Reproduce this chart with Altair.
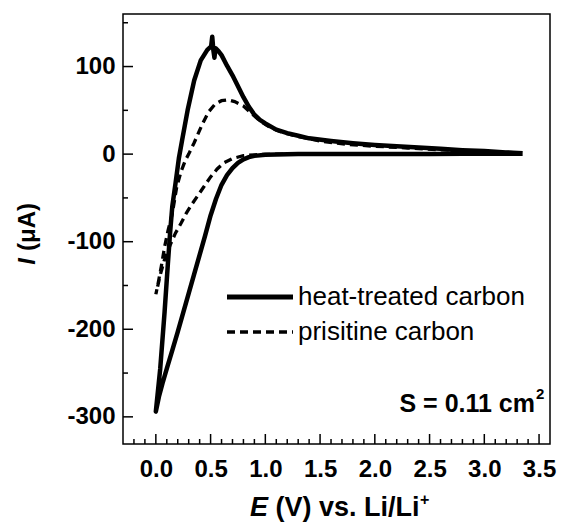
import altair as alt
import pandas as pd

# ---------------- data ----------------
# heat-treated carbon: one CV loop in scan order (cathodic 3.35 V -> 0 V, then anodic back)
ht_E = [3.35, 3.1, 2.8, 2.5, 2.2, 1.9, 1.6, 1.3, 1.1, 1.0, 0.9, 0.85, 0.8, 0.75, 0.7, 0.65,
        0.6, 0.55, 0.5, 0.45, 0.4, 0.35, 0.3, 0.25, 0.2, 0.15, 0.1, 0.06, 0.03, 0.0,
        0.04, 0.08, 0.11, 0.13, 0.15, 0.18, 0.21, 0.24, 0.29, 0.35, 0.41, 0.47, 0.505,
        0.515, 0.525, 0.535, 0.545, 0.57, 0.6, 0.65, 0.7, 0.74, 0.8, 0.85, 0.9, 0.95,
        1.0, 1.1, 1.2, 1.3, 1.4, 1.6, 1.8, 2.0, 2.2, 2.4, 2.6, 2.8, 3.0, 3.2, 3.35]
ht_I = [0.5, 0.5, 0.3, 0.2, 0.1, 0.0, 0.0, 0.0, -0.3, -0.8, -2, -3.5, -6, -10, -16, -24,
        -35, -51, -70, -93, -115, -137, -159, -181, -203, -224, -245, -262, -276, -294,
        -245, -180, -125, -90, -60, -33, -5, 16, 50, 84, 107, 119, 123,
        134, 119, 110, 121, 118, 113, 101, 90, 80, 65, 54, 45, 39,
        35, 28, 24, 21, 18, 15, 12.5, 10.5, 9, 7.5, 6, 4.5, 3.5, 2, 1]

# pristine carbon: one CV loop in scan order
pc_E = [3.3, 3.0, 2.5, 2.0, 1.5, 1.2, 1.0, 0.9, 0.8, 0.7, 0.62, 0.56, 0.5, 0.44, 0.38,
        0.33, 0.28, 0.23, 0.18, 0.13, 0.08, 0.04, 0.0,
        0.02, 0.05, 0.08, 0.11, 0.15, 0.19, 0.23, 0.27, 0.3, 0.35, 0.42, 0.48, 0.54,
        0.6, 0.66, 0.72, 0.8, 0.87, 0.95, 1.05, 1.15, 1.3, 1.5, 1.75, 2.0, 2.3, 2.6,
        2.9, 3.1, 3.3]
pc_I = [0.5, 0.3, 0.2, 0.0, 0.0, 0.0, -0.3, -0.8, -1.8, -5, -10, -17, -26, -37, -48,
        -57, -67, -79, -90, -104, -120, -138, -160,
        -148, -128, -106, -88, -68, -38, -20, -7, 0, 13, 33, 48, 57,
        61, 62, 60, 55, 47, 38, 30, 25, 20, 15, 11, 9, 7, 5,
        3.5, 2.5, 1.5]

series_labels = ["heat-treated carbon", "prisitine carbon"]

x_major = [0.0, 0.5, 1.0, 1.5, 2.0, 2.5, 3.0, 3.5]
x_minor = [-0.2, -0.1, 0.1, 0.2, 0.3, 0.4, 0.6, 0.7, 0.8, 0.9, 1.1, 1.2, 1.3, 1.4,
           1.6, 1.7, 1.8, 1.9, 2.1, 2.2, 2.3, 2.4, 2.6, 2.7, 2.8, 2.9, 3.1, 3.2,
           3.3, 3.4]
y_major = [-300, -200, -100, 0, 100]
y_minor = [-250, -150, -50, 50, 150]

# ---------------- chart ----------------
W, H = 427, 430
FONT = "Liberation Sans"
xs = alt.Scale(domain=[-0.3, 3.6], nice=False, zero=False)
ys = alt.Scale(domain=[-331, 160], nice=False, zero=False)

ht = pd.DataFrame({"E": ht_E, "I": ht_I, "k": list(range(len(ht_E)))})
pc = pd.DataFrame({"E": pc_E, "I": pc_I, "k": list(range(len(pc_E)))})

x_axis = alt.Axis(values=x_major, labelExpr="format(datum.value, '.1f')", title=None,
                  ticks=False, tickSize=0, domain=False, grid=False,
                  labelFont=FONT, labelFontWeight="bold", labelFontSize=24,
                  labelColor="black", labelPadding=13, labelFlush=False,
                  labelOverlap=False)
y_axis = alt.Axis(values=y_major, labelExpr="'' + datum.value", title=None,
                  ticks=False, tickSize=0, domain=False, grid=False,
                  labelFont=FONT, labelFontWeight="bold", labelFontSize=24,
                  labelColor="black", labelPadding=8, labelFlush=False,
                  labelOverlap=False)

solid = alt.Chart(ht).mark_line(color="black", strokeWidth=4.5, strokeJoin="round").encode(
    x=alt.X("E:Q", scale=xs, axis=x_axis),
    y=alt.Y("I:Q", scale=ys, axis=y_axis),
    order="k:Q",
)
dashed = alt.Chart(pc).mark_line(color="black", strokeWidth=3.3, strokeDash=[8, 5]).encode(
    x=alt.X("E:Q", scale=xs),
    y=alt.Y("I:Q", scale=ys),
    order="k:Q",
)

tick_style = dict(color="black", strokeWidth=1.5)
xmaj = alt.Chart(pd.DataFrame({"E": x_major})).mark_rule(**tick_style).encode(
    x=alt.X("E:Q", scale=xs), y=alt.value(H), y2=alt.value(H - 10))
xmin = alt.Chart(pd.DataFrame({"E": x_minor})).mark_rule(**tick_style).encode(
    x=alt.X("E:Q", scale=xs), y=alt.value(H), y2=alt.value(H - 5))
ymaj = alt.Chart(pd.DataFrame({"I": y_major})).mark_rule(**tick_style).encode(
    y=alt.Y("I:Q", scale=ys), x=alt.value(0), x2=alt.value(10))
ymin = alt.Chart(pd.DataFrame({"I": y_minor})).mark_rule(**tick_style).encode(
    y=alt.Y("I:Q", scale=ys), x=alt.value(0), x2=alt.value(5))

one = pd.DataFrame({"a": [0]})

def txt(s, x, y, size, weight="bold", style="normal", align="left", baseline="alphabetic", angle=0):
    return alt.Chart(one).mark_text(
        text=s, font=FONT, fontSize=size, fontWeight=weight, fontStyle=style,
        align=align, baseline=baseline, angle=angle, color="black",
    ).encode(x=alt.value(x), y=alt.value(y))

# legend
leg_solid = alt.Chart(one).mark_rule(color="black", strokeWidth=5).encode(
    x=alt.value(104), x2=alt.value(170), y=alt.value(283))
leg_dash = alt.Chart(one).mark_rule(color="black", strokeWidth=3.5, strokeDash=[8, 5]).encode(
    x=alt.value(104), x2=alt.value(170), y=alt.value(318))
leg_t1 = txt(series_labels[0], 175, 291, 26, weight="normal")
leg_t2 = txt(series_labels[1], 175, 326, 26, weight="normal")

# annotation
s_main = txt("S = 0.11 cm", 412, 398, 25, align="right")
s_sup = txt("2", 413, 385, 15)

# axis titles
xt_E = txt("E", 145, 502, 27, style="italic", align="right")
xt_rest = txt("(V) vs. Li/Li", 152.5, 502, 27)
xt_sup = txt("+", 297, 491, 16)
yt_I = txt("I", -95, 244, 24, style="italic", align="right", baseline="middle", angle=270)
yt_rest = txt("(\u03bcA)", -95, 237, 24, align="left", baseline="middle", angle=270)

chart = alt.layer(
    solid, dashed, xmaj, xmin, ymaj, ymin,
    leg_solid, leg_dash, leg_t1, leg_t2, s_main, s_sup,
    xt_E, xt_rest, xt_sup, yt_I, yt_rest,
).properties(
    width=W, height=H,
    autosize=alt.AutoSizeParams(type="none"),
    padding={"left": 115, "top": 6, "right": 10, "bottom": 78},
    background="white",
).configure_view(stroke="black", strokeWidth=1.5)

chart.save("out.html", embed_options={"renderer": "svg", "actions": False})
